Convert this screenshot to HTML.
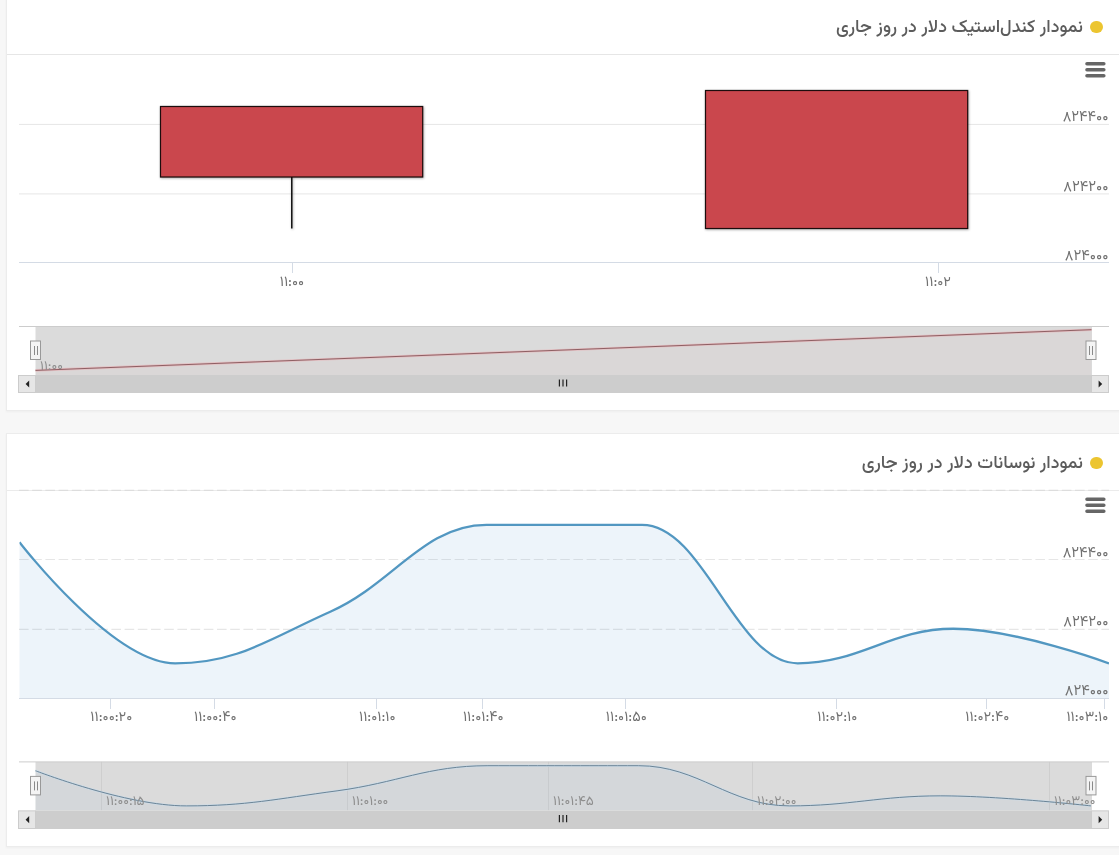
<!DOCTYPE html>
<html lang="fa" dir="rtl">
<head>
<meta charset="utf-8">
<title>نمودار دلار</title>
<style>
*{box-sizing:border-box}
html,body{margin:0;padding:0}
body{width:1119px;height:855px;overflow:hidden;background:#f7f7f7;font-family:"Vazirmatn", "DejaVu Sans", "Liberation Sans", sans-serif;position:relative}
.panel{position:absolute;left:6px;width:1114px;background:#fff;border:1px solid #ececec;box-shadow:0 1px 2px rgba(0,0,0,.04)}
#p1{top:-2px;height:413.3px}
#p2{top:433.2px;height:413.4px}
.head{position:absolute;left:0;right:0;top:0;height:56px;margin:0;font-weight:400}
.head .t{position:absolute;right:36px;font-size:17.9px;line-height:30px;color:#5c5c5c;white-space:nowrap;font-weight:500}
.head .dot{position:absolute;right:16.4px;width:12.2px;height:12.2px;border-radius:50%;background:#ecc530}
#p1 .head{border-bottom:1px solid #e6e6e6;height:56px}
#p1 .t{top:13.7px} #p1 .dot{top:22.3px}
#p2 .head{height:56.8px;border-bottom:1px solid #ebebeb}
#p2 .t{top:14.5px} #p2 .dot{top:23.1px}
svg{position:absolute;left:0;top:0;direction:ltr}
svg text{font-family:"Vazirmatn", "DejaVu Sans", "Liberation Sans", sans-serif;}
.yl{font-size:14.8px;font-weight:400;fill:#707070;text-anchor:end}
.xl{font-size:14.4px;font-weight:400;fill:#707070;text-anchor:middle}
.nl{font-size:13.6px;fill:#8e8e8e;text-anchor:start}
</style>
</head>
<body>
<section class="panel" id="p1">
  <h2 class="head"><span class="dot"></span><span class="t">نمودار کندل‌استیک دلار در روز جاری</span></h2>
</section>
<section class="panel" id="p2">
  <h2 class="head"><span class="dot"></span><span class="t">نمودار نوسانات دلار در روز جاری</span></h2>
</section>
<svg width="1119" height="855" viewBox="0 0 1119 855">
<defs>
<clipPath id="plot2"><rect x="19.5" y="490" width="1089.5" height="209"/></clipPath>
<filter id="sh" x="-5%" y="-5%" width="110%" height="115%"><feDropShadow dx="0.6" dy="0.8" stdDeviation="0.9" flood-color="#000" flood-opacity="0.35"/></filter>
</defs>
<g id="chart1">
<path d="M 19 124.4 H 1109" stroke="#e6e6e6" stroke-width="1"/>
<path d="M 19 193.9 H 1109" stroke="#e6e6e6" stroke-width="1"/>
<path d="M 19 262.5 H 1109" stroke="#d4dbe5" stroke-width="1"/>
<path d="M 292.5 262.5 V 273" stroke="#d4dbe5" stroke-width="1"/>
<path d="M 938.5 262.5 V 273" stroke="#d4dbe5" stroke-width="1"/>
<g filter="url(#sh)">
<path d="M 291.8 177 V 228.4" stroke="#000000" stroke-width="1.4" fill="none"/>
<rect x="160.5" y="106.5" width="262.2" height="70.5" fill="#ca474d" stroke="#1a0a0a" stroke-width="1.2"/>
<rect x="705.5" y="90.5" width="262.2" height="138" fill="#ca474d" stroke="#1a0a0a" stroke-width="1.2"/>
</g>
<text x="1108.5" y="121" class="yl">۸۲۴۴۰۰</text>
<text x="1108.5" y="190.6" class="yl">۸۲۴۲۰۰</text>
<text x="1108.5" y="259.6" class="yl">۸۲۴۰۰۰</text>
<text x="292" y="285.5" class="xl">۱۱:۰۰</text>
<text x="938" y="285.5" class="xl">۱۱:۰۲</text>
<path d="M 1087 63.7 h 16.8 M 1087 69.7 h 16.8 M 1087 75.7 h 16.8" stroke="#666" stroke-width="3.6" stroke-linecap="round" fill="none"/>
<rect x="35.5" y="326.5" width="1056.5" height="48.5" fill="#dbdbdb"/>
<path d="M 35.5 370.4 L 1091.5 329.7 L 1091 375 L 35.5 375 Z" fill="#c9474d" fill-opacity="0.025"/>
<path d="M 35.5 370.4 L 1091.5 329.7" fill="none" stroke="#e3c0c3" stroke-width="2.6"/>
<path d="M 35.5 370.4 L 1091.5 329.7" fill="none" stroke="#8f5f63" stroke-width="1"/>
<text x="40" y="369.5" class="nl">۱۱:۰۰</text>
<path d="M 19 326.5 H 1109" stroke="#cccccc" stroke-width="1" fill="none"/>
<rect x="30.5" y="341" width="10" height="18.5" fill="#f4f4f4" stroke="#999999" stroke-width="1"/>
<path d="M 34.5 346 v 9 M 37.5 346 v 9" stroke="#8a8a8a" stroke-width="1" fill="none"/>
<rect x="1086" y="341" width="10" height="18.5" fill="#f4f4f4" stroke="#999999" stroke-width="1"/>
<path d="M 1089.5 346 v 9 M 1092.5 346 v 9" stroke="#8a8a8a" stroke-width="1" fill="none"/>
<rect x="19" y="375" width="1090" height="18" fill="#f2f2f2"/>
<rect x="35.5" y="375" width="1056" height="18" fill="#cdcdcd"/>
<rect x="18.5" y="375.5" width="17" height="17" fill="#e6e6e6" stroke="#cccccc" stroke-width="1"/>
<rect x="1091.5" y="375.5" width="17" height="17" fill="#e6e6e6" stroke="#cccccc" stroke-width="1"/>
<path d="M 25.6 384 l 3.6 -3.6 v 7.2 z" fill="#222222"/>
<path d="M 1102.2 384 l -3.6 -3.6 v 7.2 z" fill="#222222"/>
<path d="M 559.4 379.4 v 7.2 M 563 379.4 v 7.2 M 566.6 379.4 v 7.2" stroke="#222222" stroke-width="1.2" fill="none"/>
</g>
<g id="chart2">
<path d="M 19 490.3 H 1109" stroke="#dddddd" stroke-width="1.2" stroke-dasharray="9.6 3.6"/>
<path d="M 19 559.5 H 1109" stroke="#e6e6e6" stroke-width="1.2" stroke-dasharray="9.6 3.6"/>
<path d="M 19 629.3 H 1109" stroke="#e6e6e6" stroke-width="1.2" stroke-dasharray="9.6 3.6"/>
<path d="M 19.50 542.19 C 19.50 542.19 112.89 663.38 175.14 663.38 C 237.40 663.38 268.53 639.14 330.79 611.44 C 393.04 583.74 424.17 524.88 486.43 524.88 C 548.69 524.88 579.81 524.88 642.07 524.88 C 704.33 524.88 735.46 663.38 797.71 663.38 C 859.97 663.38 891.10 628.75 953.36 628.75 C 1015.61 628.75 1109.00 663.38 1109.00 663.38 L 1109.00 698.00 L 19.50 698.00 Z" fill="#5a9fd4" fill-opacity="0.11"/>
<path d="M 19 698.5 H 1109" stroke="#d4dbe5" stroke-width="1"/>
<path d="M 110.5 698.5 V 709" stroke="#d4dbe5" stroke-width="1"/>
<path d="M 214.5 698.5 V 709" stroke="#d4dbe5" stroke-width="1"/>
<path d="M 376.5 698.5 V 709" stroke="#d4dbe5" stroke-width="1"/>
<path d="M 482.5 698.5 V 709" stroke="#d4dbe5" stroke-width="1"/>
<path d="M 625.5 698.5 V 709" stroke="#d4dbe5" stroke-width="1"/>
<path d="M 836.5 698.5 V 709" stroke="#d4dbe5" stroke-width="1"/>
<path d="M 986.5 698.5 V 709" stroke="#d4dbe5" stroke-width="1"/>
<path d="M 1104.5 698.5 V 709" stroke="#d4dbe5" stroke-width="1"/>
<path d="M 19.50 542.19 C 19.50 542.19 112.89 663.38 175.14 663.38 C 237.40 663.38 268.53 639.14 330.79 611.44 C 393.04 583.74 424.17 524.88 486.43 524.88 C 548.69 524.88 579.81 524.88 642.07 524.88 C 704.33 524.88 735.46 663.38 797.71 663.38 C 859.97 663.38 891.10 628.75 953.36 628.75 C 1015.61 628.75 1109.00 663.38 1109.00 663.38" fill="none" stroke="#5297c1" stroke-width="2.3" stroke-linejoin="round" clip-path="url(#plot2)"/>
<text x="1108.5" y="556.6" class="yl">۸۲۴۴۰۰</text>
<text x="1108.5" y="626.2" class="yl">۸۲۴۲۰۰</text>
<text x="1108.5" y="694.6" class="yl">۸۲۴۰۰۰</text>
<text x="111.3" y="721" class="xl">۱۱:۰۰:۲۰</text>
<text x="215.3" y="721" class="xl">۱۱:۰۰:۴۰</text>
<text x="377.3" y="721" class="xl">۱۱:۰۱:۱۰</text>
<text x="483.3" y="721" class="xl">۱۱:۰۱:۴۰</text>
<text x="626.3" y="721" class="xl">۱۱:۰۱:۵۰</text>
<text x="837.3" y="721" class="xl">۱۱:۰۲:۱۰</text>
<text x="987.3" y="721" class="xl">۱۱:۰۲:۴۰</text>
<text x="1108.3" y="721" class="xl" style="text-anchor:end">۱۱:۰۳:۱۰</text>
<path d="M 1087 499.3 h 16.8 M 1087 505.3 h 16.8 M 1087 511.3 h 16.8" stroke="#666" stroke-width="3.6" stroke-linecap="round" fill="none"/>
<rect x="35.5" y="761.9" width="1056.5" height="48.5" fill="#dbdbdb"/>
<path d="M 101.5 761.9 V 810.4" stroke="#cecece" stroke-width="1"/>
<path d="M 347.5 761.9 V 810.4" stroke="#cecece" stroke-width="1"/>
<path d="M 548.5 761.9 V 810.4" stroke="#cecece" stroke-width="1"/>
<path d="M 752.5 761.9 V 810.4" stroke="#cecece" stroke-width="1"/>
<path d="M 1049.5 761.9 V 810.4" stroke="#cecece" stroke-width="1"/>
<path d="M 35.50 770.73 C 35.50 770.73 125.97 805.90 186.29 805.90 C 246.60 805.90 276.76 798.87 337.07 790.83 C 397.39 782.79 427.54 765.70 487.86 765.70 C 548.17 765.70 578.33 765.70 638.64 765.70 C 698.96 765.70 729.11 805.90 789.43 805.90 C 849.74 805.90 879.90 795.85 940.21 795.85 C 1000.53 795.85 1091.00 805.90 1091.00 805.90 L 1091.00 810.40 L 35.50 810.40 Z" fill="#5a9fd4" fill-opacity="0.05"/>
<path d="M 35.50 770.73 C 35.50 770.73 125.97 805.90 186.29 805.90 C 246.60 805.90 276.76 798.87 337.07 790.83 C 397.39 782.79 427.54 765.70 487.86 765.70 C 548.17 765.70 578.33 765.70 638.64 765.70 C 698.96 765.70 729.11 805.90 789.43 805.90 C 849.74 805.90 879.90 795.85 940.21 795.85 C 1000.53 795.85 1091.00 805.90 1091.00 805.90" fill="none" stroke="#cddbe6" stroke-width="2.4"/>
<path d="M 35.50 770.73 C 35.50 770.73 125.97 805.90 186.29 805.90 C 246.60 805.90 276.76 798.87 337.07 790.83 C 397.39 782.79 427.54 765.70 487.86 765.70 C 548.17 765.70 578.33 765.70 638.64 765.70 C 698.96 765.70 729.11 805.90 789.43 805.90 C 849.74 805.90 879.90 795.85 940.21 795.85 C 1000.53 795.85 1091.00 805.90 1091.00 805.90" fill="none" stroke="#6b8496" stroke-width="1"/>
<text x="106" y="804.9" class="nl">۱۱:۰۰:۱۵</text>
<text x="352" y="804.9" class="nl">۱۱:۰۱:۰۰</text>
<text x="553" y="804.9" class="nl">۱۱:۰۱:۴۵</text>
<text x="757" y="804.9" class="nl">۱۱:۰۲:۰۰</text>
<text x="1054" y="804.9" class="nl">۱۱:۰۳:۰۰</text>
<path d="M 19 761.9 H 1109" stroke="#cccccc" stroke-width="1" fill="none"/>
<rect x="30.5" y="776.4" width="10" height="18.5" fill="#f4f4f4" stroke="#999999" stroke-width="1"/>
<path d="M 34.5 781.4 v 9 M 37.5 781.4 v 9" stroke="#8a8a8a" stroke-width="1" fill="none"/>
<rect x="1086" y="776.4" width="10" height="18.5" fill="#f4f4f4" stroke="#999999" stroke-width="1"/>
<path d="M 1089.5 781.4 v 9 M 1092.5 781.4 v 9" stroke="#8a8a8a" stroke-width="1" fill="none"/>
<rect x="19" y="810.4" width="1090" height="18.6" fill="#f2f2f2"/>
<rect x="35.5" y="810.4" width="1056" height="18.6" fill="#cdcdcd"/>
<rect x="18.5" y="810.9" width="17" height="17.6" fill="#e6e6e6" stroke="#cccccc" stroke-width="1"/>
<rect x="1091.5" y="810.9" width="17" height="17.6" fill="#e6e6e6" stroke="#cccccc" stroke-width="1"/>
<path d="M 25.6 819.7 l 3.6 -3.6 v 7.2 z" fill="#222222"/>
<path d="M 1102.2 819.7 l -3.6 -3.6 v 7.2 z" fill="#222222"/>
<path d="M 559.4 815.1 v 7.2 M 563 815.1 v 7.2 M 566.6 815.1 v 7.2" stroke="#222222" stroke-width="1.2" fill="none"/>
</g>
</svg>
</body>
</html>
